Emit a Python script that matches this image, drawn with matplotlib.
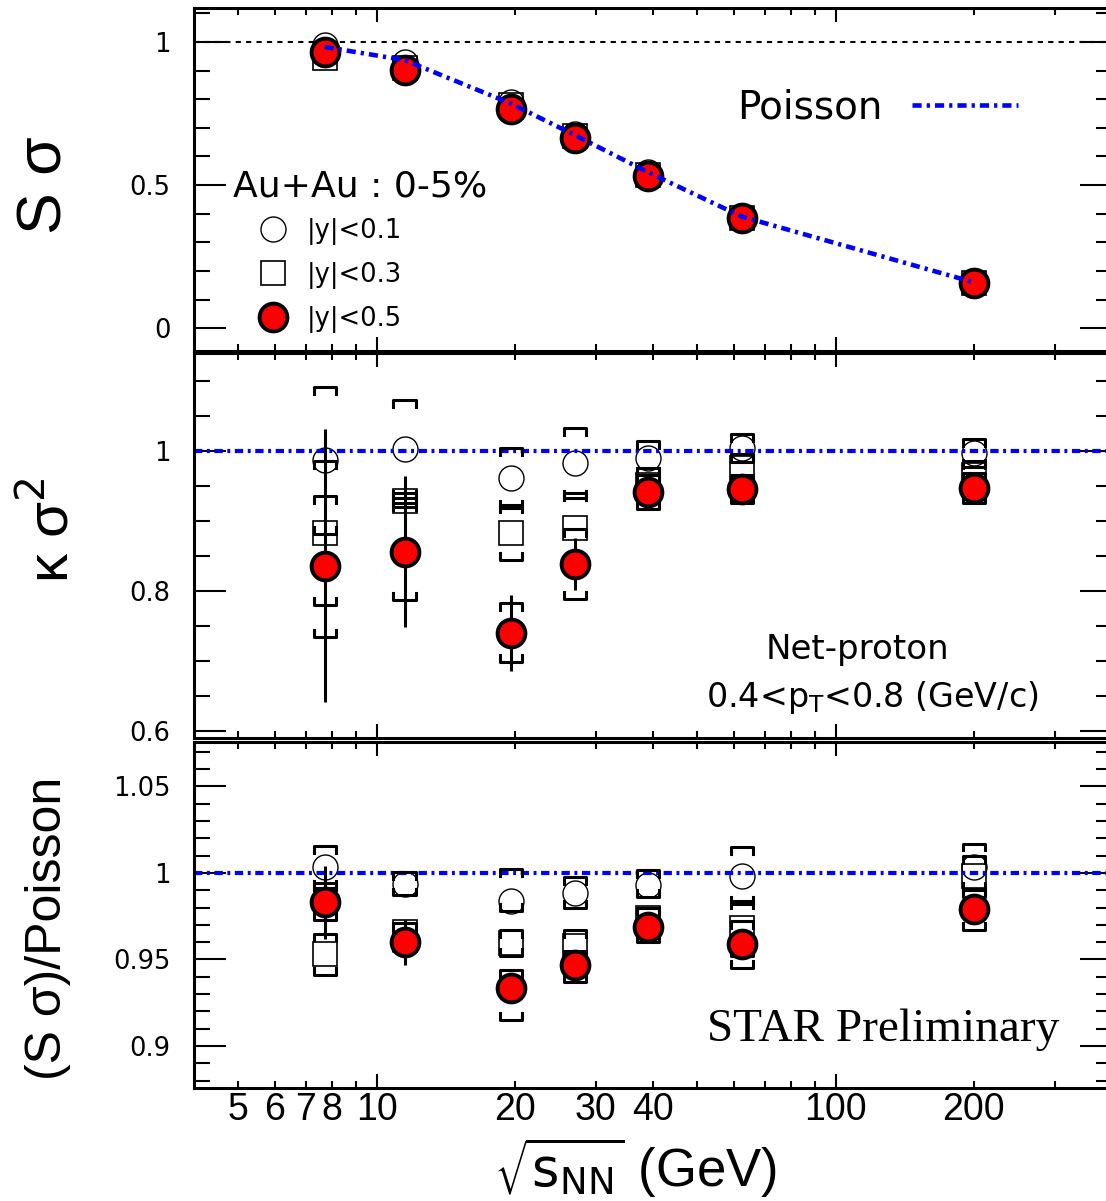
import numpy as np
import matplotlib
matplotlib.use("Agg")
import matplotlib.pyplot as plt
from matplotlib.ticker import FixedLocator, FuncFormatter, MultipleLocator

# beam energies (GeV)
energy = [7.7, 11.5, 19.6, 27, 39, 62.4, 200]
xtick_labels = [5, 6, 7, 8, 10, 20, 30, 40, 100, 200]
series_labels = ["|y|<0.1", "|y|<0.3", "|y|<0.5"]

# S sigma
ss_y01 = [0.99, 0.93, 0.79, 0.68, 0.545, 0.39, 0.16]
ss_y03 = [0.945, 0.91, 0.78, 0.67, 0.535, 0.385, 0.158]
ss_y05 = [0.965, 0.902, 0.766, 0.665, 0.53, 0.385, 0.157]
ss_poisson = [0.983, 0.937, 0.785, 0.675, 0.545, 0.39, 0.16]

# kappa sigma^2
ks_y01 = [0.987, 1.003, 0.961, 0.983, 0.99, 1.004, 0.997]
ks_y01_lo = [0.882, 0.933, 0.918, 0.933, 0.966, 0.984, 0.977]
ks_y01_hi = [1.092, 1.073, 1.004, 1.033, 1.014, 1.024, 1.017]
ks_y03 = [0.883, 0.929, 0.883, 0.89, 0.952, 0.975, 0.965]
ks_y03_lo = [0.78, 0.92, 0.844, 0.84, 0.93, 0.955, 0.945]
ks_y03_hi = [0.986, 0.94, 0.923, 0.94, 0.975, 0.995, 0.985]
ks_y05 = [0.836, 0.856, 0.74, 0.839, 0.941, 0.946, 0.947]
ks_y05_lo = [0.734, 0.787, 0.699, 0.789, 0.917, 0.926, 0.926]
ks_y05_hi = [0.936, 0.926, 0.783, 0.889, 0.965, 0.966, 0.968]
ks_y05_stat = [0.195, 0.108, 0.054, 0.037, 0.012, 0.01, 0.008]

# (S sigma)/Poisson
sp_y01 = [1.0035, 0.9936, 0.984, 0.9884, 0.993, 0.998, 1.0035]
sp_y01_lo = [0.9915, 0.987, 0.978, 0.980, 0.986, 0.982, 0.99]
sp_y01_hi = [1.0155, 1.0006, 1.0023, 0.9977, 1.0017, 1.015, 1.017]
sp_y03 = [0.953, 0.966, 0.9595, 0.958, 0.974, 0.968, 0.998]
sp_y03_lo = [0.941, 0.961, 0.952, 0.95, 0.968, 0.952, 0.986]
sp_y03_hi = [0.965, 0.971, 0.967, 0.967, 0.98, 0.984, 1.010]
sp_y05 = [0.983, 0.96, 0.9335, 0.947, 0.969, 0.959, 0.979]
sp_y05_lo = [0.973, 0.955, 0.915, 0.937, 0.96, 0.945, 0.967]
sp_y05_hi = [0.994, 0.965, 0.944, 0.955, 0.98, 0.972, 0.991]
sp_y05_stat = [0.021, 0.013, 0.006, 0.005, 0.004, 0.004, 0.003]

DASHDOT = (0, (2.0, 1.1, 0.7, 1.1))
plt.rcParams["font.family"] = ["DejaVu Sans"]


def draw_brackets(ax, x, lo, hi, leg):
    f = 1.057
    for xi, l, h in zip(x, lo, hi):
        xs = [xi / f, xi / f, xi * f, xi * f]
        ax.plot(xs, [h - leg, h, h, h - leg], color="k", lw=2.2, zorder=3)
        ax.plot(xs, [l + leg, l, l, l + leg], color="k", lw=2.2, zorder=3)


def draw_points(ax, y01, y03, y05):
    h1, = ax.plot(energy, y01, "o", mfc="none", mec="k", ms=18, mew=1.0,
                  zorder=2, label=series_labels[0])
    h2, = ax.plot(energy, y03, "s", mfc="none", mec="k", ms=17, mew=1.2,
                  zorder=2, label=series_labels[1])
    h3, = ax.plot(energy, y05, "o", mfc="red", mec="k", ms=20, mew=2.8,
                  zorder=5, label=series_labels[2])
    return h1, h2, h3


def style_axes(ax, ylim, ymajor, yminor, show_x):
    ax.set_xscale("log")
    ax.set_xlim(4, 400)
    ax.set_ylim(*ylim)
    ax.xaxis.set_major_locator(FixedLocator([10, 100]))
    ax.xaxis.set_minor_locator(FixedLocator(
        [5, 6, 7, 8, 9, 20, 30, 40, 50, 60, 70, 80, 90, 200, 300]))
    fmt = FuncFormatter(
        lambda v, p: f"{v:g}" if any(abs(v - t) < 1e-6 for t in xtick_labels) else "")
    ax.xaxis.set_major_formatter(fmt)
    ax.xaxis.set_minor_formatter(fmt)
    ax.yaxis.set_major_locator(MultipleLocator(ymajor))
    ax.yaxis.set_minor_locator(MultipleLocator(yminor))
    ax.yaxis.set_major_formatter(FuncFormatter(lambda v, p: f"{v:g}"))
    ax.tick_params(which="both", direction="in", top=True, right=True,
                   width=1.5, labelbottom=show_x)
    ax.tick_params(axis="y", which="major", length=23, labelsize=18.5, pad=17)
    ax.tick_params(axis="y", which="minor", length=11.5)
    ax.tick_params(axis="x", which="major", length=10)
    ax.tick_params(axis="x", which="minor", length=5)
    ax.tick_params(axis="x", which="both", labelsize=27, pad=3,
                   labelfontfamily="Liberation Sans")
    for s in ax.spines.values():
        s.set_linewidth(2.2)


fig = plt.figure(figsize=(11.06, 12.01), dpi=100)
left, width = 194 / 1106, (1112 - 194) / 1106
ax1 = fig.add_axes([left, 1 - 351 / 1201, width, 343 / 1201])
ax2 = fig.add_axes([left, 1 - 738 / 1201, width, 385 / 1201])
ax3 = fig.add_axes([left, 1 - 1088 / 1201, width, 346 / 1201])

# top panel
style_axes(ax1, (-0.080, 1.119), 0.5, 0.1, False)
ax1.axhline(1, color="k", lw=1.5, ls=(0, (2.5, 2.5)), zorder=1)
handles = draw_points(ax1, ss_y01, ss_y03, ss_y05)
pois, = ax1.plot(energy, ss_poisson, color="blue", lw=3.3, ls=DASHDOT, zorder=6,
                 label="Poisson")
leg1 = ax1.legend(handles=list(handles), loc="upper left",
                  bbox_to_anchor=(0.058, 0.387), frameon=False, fontsize=18.5,
                  handlelength=2.0, handletextpad=0.3, labelspacing=0.66,
                  borderpad=0, borderaxespad=0)
ax1.add_artist(leg1)
ax1.legend(handles=[pois], loc="center left", bbox_to_anchor=(0.5915, 0.711),
           frameon=False, fontsize=28, markerfirst=False, handlelength=2.75,
           handletextpad=0.75, borderpad=0, borderaxespad=0)
ax1.text(0.0425, 0.481, "Au+Au : 0-5%", transform=ax1.transAxes, fontsize=26,
         ha="left", va="center")

# middle panel
style_axes(ax2, (0.59, 1.14), 0.2, 0.05, False)
ax2.axhline(1, color="blue", lw=3, ls=DASHDOT, zorder=2.5)
draw_points(ax2, ks_y01, ks_y03, ks_y05)
draw_brackets(ax2, energy, ks_y01_lo, ks_y01_hi, 0.01)
draw_brackets(ax2, energy, ks_y03_lo, ks_y03_hi, 0.01)
draw_brackets(ax2, energy, ks_y05_lo, ks_y05_hi, 0.01)
ax2.errorbar(energy, ks_y05, yerr=ks_y05_stat, fmt="none", ecolor="k",
             elinewidth=2.2, zorder=4)
ax2.text(0.723, 0.229, "Net-proton", transform=ax2.transAxes, fontsize=24.5,
         ha="center", va="center")
ax2.text(0.739, 0.106, r"0.4<p$_{\mathrm{T}}$<0.8 (GeV/c)",
         transform=ax2.transAxes, fontsize=24, ha="center", va="center")

# bottom panel
style_axes(ax3, (0.8757, 1.0757), 0.05, 0.01, True)
ax3.axhline(1, color="blue", lw=3, ls=DASHDOT, zorder=2.5)
draw_points(ax3, sp_y01, sp_y03, sp_y05)
draw_brackets(ax3, energy, sp_y01_lo, sp_y01_hi, 0.004)
draw_brackets(ax3, energy, sp_y03_lo, sp_y03_hi, 0.004)
draw_brackets(ax3, energy, sp_y05_lo, sp_y05_hi, 0.004)
ax3.errorbar(energy, sp_y05, yerr=sp_y05_stat, fmt="none", ecolor="k",
             elinewidth=2.2, zorder=4)
ax3.text(0.559, 0.168, "STAR Preliminary", transform=ax3.transAxes,
         fontsize=34, family="Liberation Serif", ha="left", va="center")

# axis titles
fig.text(45 / 1106, 1 - 185 / 1201, "S σ", rotation=90, fontsize=45,
         family="Liberation Sans", ha="center", va="center")
fig.text(52 / 1106, 1 - 530 / 1201, "κ σ$^{2}$", rotation=90, fontsize=42,
         family="Liberation Sans", ha="center", va="center")
fig.text(48 / 1106, 1 - 928 / 1201, "(S σ)/Poisson", rotation=90, fontsize=36,
         family="Liberation Sans", ha="center", va="center")
fig.text(635 / 1106, 1 - 1168 / 1201, r"$\sqrt{\mathrm{s}_{\mathrm{NN}}}$ (GeV)",
         fontsize=38, family="Liberation Sans", ha="center", va="center")

fig.savefig("out.png", dpi=100)
